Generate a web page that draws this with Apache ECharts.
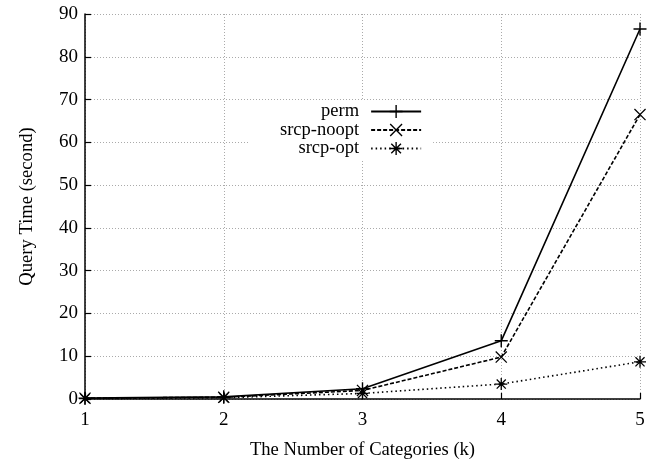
<!DOCTYPE html>
<html>
<head>
<meta charset="utf-8">
<script src="https://cdn.jsdelivr.net/npm/echarts@6/dist/echarts.min.js"></script>
<style>
  html, body { margin: 0; padding: 0; background: #fff; }
  #chart { width: 668px; height: 462px; }
</style>
</head>
<body>
<div id="chart"></div>
<script>
// data
var categories = [1, 2, 3, 4, 5];
var permData = [0.2, 0.5, 2.4, 13.6, 86.5];
var nooptData = [0.2, 0.4, 2.0, 9.8, 66.5];
var optData = [0.1, 0.3, 1.3, 3.5, 8.7];

// gnuplot-like point types
var plusPath = 'path://M-6,-0.65L6,-0.65L6,0.65L-6,0.65Z M-0.65,-6L0.65,-6L0.65,6L-0.65,6Z';
var crossPath = 'path://M-6,-5.1L-5.1,-6L6,5.1L5.1,6Z M5.1,-6L6,-5.1L-5.1,6L-6,5.1Z';
var starPath = 'path://M-6,-0.65L6,-0.65L6,0.65L-6,0.65Z M-0.65,-6L0.65,-6L0.65,6L-0.65,6Z M-5,-4.1L-4.1,-5L5,4.1L4.1,5Z M4.1,-5L5,-4.1L-4.1,5L-5,4.1Z';

var font = 'Liberation Serif';

function pairs(arr) {
  return categories.map(function (c, i) { return [c, arr[i]]; });
}

var chart = echarts.init(document.getElementById('chart'));
var option = {
  animation: false,
  textStyle: { fontFamily: font, color: '#000' },
  grid: { left: 85, right: 28, top: 14, bottom: 63, outerBoundsMode: 'none' },
  legend: {
    orient: 'vertical',
    align: 'right',
    left: 248,
    top: 100,
    padding: [2, 11, 3, 32],
    backgroundColor: '#fff',
    itemWidth: 50,
    itemHeight: 16,
    itemGap: -0.5,
    textStyle: { fontFamily: font, fontSize: 18.5, color: '#000', padding: [0, 7, 0, 0] },
    data: ['perm', 'srcp-noopt', 'srcp-opt']
  },
  xAxis: {
    type: 'value',
    min: 1,
    max: 5,
    interval: 1,
    name: 'The Number of Categories (k)',
    nameLocation: 'middle',
    nameGap: 42,
    nameTextStyle: { fontFamily: font, fontSize: 18.6, color: '#000' },
    axisLine: { lineStyle: { color: '#000', width: 1.5 } },
    axisTick: { inside: true, length: 6, lineStyle: { color: '#000', width: 1.2 } },
    axisLabel: { fontFamily: font, fontSize: 19, color: '#000', margin: 12 },
    splitLine: { show: true, lineStyle: { color: '#aaa', type: [1, 2], width: 1 } }
  },
  yAxis: {
    type: 'value',
    min: 0,
    max: 90,
    interval: 10,
    name: 'Query Time (second)',
    nameLocation: 'middle',
    nameGap: 48,
    nameTextStyle: { fontFamily: font, fontSize: 18.6, color: '#000' },
    axisLine: { show: true, lineStyle: { color: '#000', width: 1.5 } },
    axisTick: { show: true, inside: true, length: 6, lineStyle: { color: '#000', width: 1.2 } },
    axisLabel: { fontFamily: font, fontSize: 19, color: '#000', margin: 7 },
    splitLine: { show: true, lineStyle: { color: '#aaa', type: [1, 2], width: 1 } }
  },
  series: [
    {
      name: 'perm',
      type: 'line',
      data: pairs(permData),
      symbol: plusPath,
      symbolSize: 13,
      clip: false,
      itemStyle: { color: '#000' },
      lineStyle: { color: '#000', width: 1.6, type: 'solid' },
      z: 5
    },
    {
      name: 'srcp-noopt',
      type: 'line',
      data: pairs(nooptData),
      symbol: crossPath,
      symbolSize: 12,
      clip: false,
      itemStyle: { color: '#000' },
      lineStyle: { color: '#000', width: 1.6, type: [4, 2] },
      z: 4
    },
    {
      name: 'srcp-opt',
      type: 'line',
      data: pairs(optData),
      symbol: starPath,
      symbolSize: 12,
      clip: false,
      itemStyle: { color: '#000' },
      lineStyle: { color: '#000', width: 1.6, type: [1.5, 3] },
      z: 3
    }
  ]
};
chart.setOption(option);
</script>
</body>
</html>
